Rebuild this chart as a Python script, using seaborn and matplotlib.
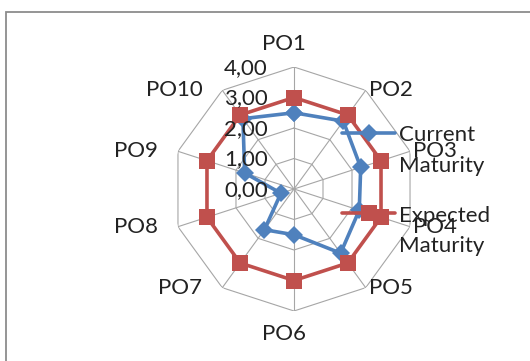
import numpy as np
import pandas as pd
import matplotlib
matplotlib.use("Agg")
import matplotlib.pyplot as plt
import matplotlib.transforms as mtransforms
from matplotlib.patches import Rectangle
from matplotlib.lines import Line2D
from matplotlib.legend_handler import HandlerLine2D
import seaborn as sns

# data
categories = ["PO1", "PO2", "PO3", "PO4", "PO5", "PO6", "PO7", "PO8", "PO9", "PO10"]
current_maturity = [2.5, 2.75, 2.3, 2.25, 2.6, 1.5, 1.65, 0.45, 1.7, 2.85]
expected_maturity = [3.0, 3.0, 3.0, 3.0, 3.0, 3.0, 3.0, 3.0, 3.0, 3.0]
r_ticks = [0, 1, 2, 3, 4]
r_ticklabels = [f"{v:.2f}".replace(".", ",") for v in r_ticks]
series_names = ["Current\nMaturity", "Expected\nMaturity"]

BLUE = "#4F81BD"
RED = "#C0504D"
GRID = "#a6a6a6"
FS = 16

sns.set_theme(style="white")
plt.rcParams["font.family"] = ["Lato", "DejaVu Sans"]

n = len(categories)
theta = np.arange(n) * 2 * np.pi / n
theta_closed = np.append(theta, 2 * np.pi)

df = pd.DataFrame({
    "theta": np.tile(theta_closed, 2),
    "value": current_maturity + current_maturity[:1] + expected_maturity + expected_maturity[:1],
    "series": ["Current Maturity"] * (n + 1) + ["Expected Maturity"] * (n + 1),
})

fig = plt.figure(figsize=(5.3, 3.61), dpi=100)
ax = fig.add_axes([0.3245, 0.1385, 0.4604, 0.6759], projection="polar")
ax.set_theta_zero_location("N")
ax.set_theta_direction(-1)
ax.set_ylim(0, r_ticks[-1])
ax.grid(False)
ax.spines["polar"].set_visible(False)
ax.set_facecolor("white")

# decagon grid and spokes
for r in r_ticks[1:]:
    ax.plot(theta_closed, [r] * (n + 1), color=GRID, lw=0.8, zorder=0)
for t in theta:
    ax.plot([t, t], [0, r_ticks[-1]], color=GRID, lw=0.8, zorder=0)

cur = df[df["series"] == "Current Maturity"]
exp = df[df["series"] == "Expected Maturity"]
sns.lineplot(x=cur["theta"], y=cur["value"], ax=ax, sort=False, estimator=None,
             color=BLUE, lw=2.6, marker="D", markersize=9,
             markeredgecolor=BLUE, markeredgewidth=0, zorder=3)
sns.lineplot(x=exp["theta"], y=exp["value"], ax=ax, sort=False, estimator=None,
             color=RED, lw=2.6, marker="s", markersize=11,
             markeredgecolor=RED, markeredgewidth=0, zorder=4)

ax.set_xlabel("")
ax.set_ylabel("")
ax.set_xticks(theta)
ax.set_xticklabels([])
ax.set_yticks(r_ticks)
ax.set_yticklabels([])
ax.tick_params(length=0)

# radial value labels, left of the top spoke
off = mtransforms.ScaledTranslation(-26 / 100, -1 / 100, fig.dpi_scale_trans)
for r, lab in zip(r_ticks, r_ticklabels):
    ax.text(0, r, lab, ha="right", va="center", fontsize=FS, color="#222222",
            transform=ax.transData + off, zorder=5)

# category labels
for t, lab in zip(theta, categories):
    s = np.sin(t)
    if abs(s) < 0.01:
        ha, dx, dy = "center", -10, 23 * np.sign(np.cos(t))
    elif s > 0:
        ha, dx, dy = "left", 3, 0
    else:
        ha, dx, dy = "right", -20, 0
    tr = ax.transData + mtransforms.ScaledTranslation(dx / 100, dy / 100, fig.dpi_scale_trans)
    ax.text(t, r_ticks[-1], lab, ha=ha, va="center", fontsize=FS, color="#222222",
            transform=tr, zorder=5)


class HandlerFirstLine(HandlerLine2D):
    # put the handle at the first text line, like the spreadsheet legend
    def create_artists(self, legend, orig_handle, xdescent, ydescent, width, height, fontsize, trans):
        arts = super().create_artists(legend, orig_handle, xdescent, ydescent, width, height, fontsize, trans)
        for a in arts:
            a.set_ydata(np.asarray(a.get_ydata()) + 0.8 * fontsize)
        return arts


handles = [Line2D([], [], color=BLUE, lw=2.6, marker="D", markersize=9, markeredgewidth=0),
           Line2D([], [], color=RED, lw=2.6, marker="s", markersize=11, markeredgewidth=0)]
if ax.get_legend() is not None:
    ax.get_legend().remove()
leg = fig.legend(handles, series_names, loc="upper left", bbox_to_anchor=(0.645, 0.653),
                 frameon=False, fontsize=FS, handlelength=2.4, handletextpad=0.15,
                 labelspacing=1.35, borderpad=0, borderaxespad=0,
                 handler_map={Line2D: HandlerFirstLine(numpoints=1)})
for txt in leg.get_texts():
    txt.set_color("#222222")
    txt.set_linespacing(1.65)

fig.patches.append(Rectangle((0.011, -0.1), 1.1, 1.0667, transform=fig.transFigure,
                             fill=False, edgecolor="#8c8c8c", lw=1.3))

fig.savefig("out.png", dpi=100)
